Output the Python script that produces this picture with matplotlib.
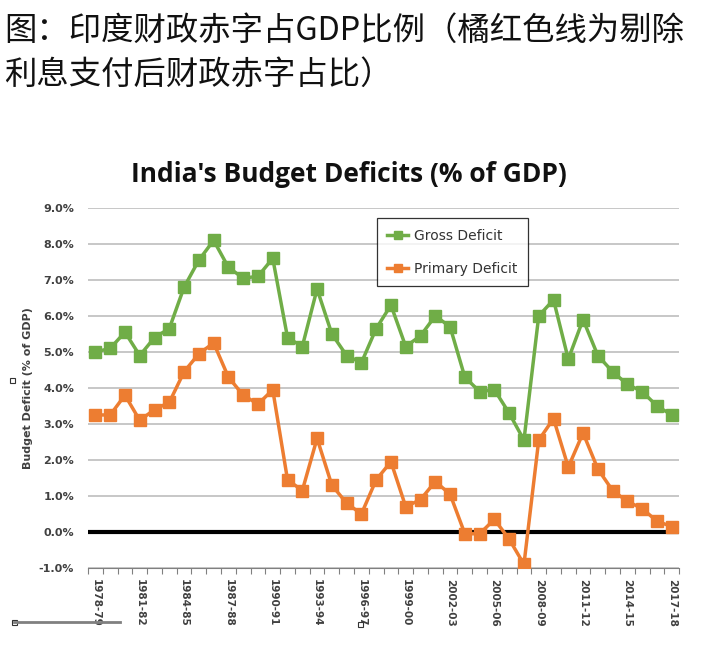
import numpy as np
import matplotlib.pyplot as plt
from matplotlib.patches import Rectangle
from matplotlib.lines import Line2D

# fiscal years 1978-79 .. 2017-18
start_years = list(range(1978, 2018))
year_labels = [f"{y}-{(y + 1) % 100:02d}" for y in start_years]

# deficits as % of GDP
gross_deficit = [5.0, 5.1, 5.55, 4.9, 5.4, 5.65, 6.8, 7.55, 8.1, 7.35,
                 7.05, 7.1, 7.6, 5.4, 5.15, 6.75, 5.5, 4.9, 4.7, 5.65,
                 6.3, 5.15, 5.45, 6.0, 5.7, 4.3, 3.9, 3.95, 3.3, 2.55,
                 6.0, 6.45, 4.8, 5.9, 4.9, 4.45, 4.1, 3.9, 3.5, 3.25]
primary_deficit = [3.25, 3.25, 3.8, 3.1, 3.4, 3.6, 4.45, 4.95, 5.25, 4.3,
                   3.8, 3.55, 3.95, 1.45, 1.15, 2.6, 1.3, 0.8, 0.5, 1.45,
                   1.95, 0.7, 0.9, 1.4, 1.05, -0.05, -0.05, 0.35, -0.2, -0.9,
                   2.55, 3.15, 1.8, 2.75, 1.75, 1.15, 0.85, 0.65, 0.3, 0.15]

green = "#70ad47"
orange = "#ed7d31"
txt = "#404040"

fig = plt.figure(figsize=(7.02, 6.48), dpi=100)

# chinese caption on top
cjk = ["Noto Sans CJK SC", "DejaVu Sans"]
fig.text(0.006, 0.952, "图：印度财政赤字占GDP比例（橘红色线为剔除",
         fontsize=23.3, family=cjk, va="center", ha="left", color="#111111")
fig.text(0.006, 0.884, "利息支付后财政赤字占比）",
         fontsize=23.3, family=cjk, va="center", ha="left", color="#111111")

ax = fig.add_axes([0.1254, 0.1235, 0.842, 0.5556])
ax.set_axisbelow(True)
x = np.arange(len(start_years))

ax.axhline(0, color="black", lw=3, zorder=1.5)
ax.plot(x, gross_deficit, color=green, lw=2.5, marker="s", ms=8.5,
        label="Gross Deficit", zorder=3)
ax.plot(x, primary_deficit, color=orange, lw=2.5, marker="s", ms=8.5,
        label="Primary Deficit", zorder=3)

ax.set_xlim(-0.5, len(start_years) - 0.5)
ax.set_ylim(-1, 9)
yt = np.arange(-1, 10, 1)
ax.set_yticks(yt, [f"{v:.1f}%" for v in yt])
ax.tick_params(axis="y", length=0, pad=10, labelsize=8, labelcolor=txt)
for lbl in ax.get_yticklabels():
    lbl.set_fontweight("bold")

ax.grid(axis="y", color="#bdbdbd", lw=1.2)

# tick marks between categories, labels on every third year
ax.set_xticks(np.arange(-0.5, len(start_years), 1), [""] * (len(start_years) + 1))
ax.set_xticks(x[::3], year_labels[::3], minor=True)
ax.tick_params(axis="x", which="major", length=4, color="#808080", direction="out")
ax.tick_params(axis="x", which="minor", length=0, pad=8, labelsize=7.5,
               labelcolor=txt, rotation=270)
for lbl in ax.get_xticklabels(minor=True):
    lbl.set_fontweight("bold")

for s in ["top", "right", "left"]:
    ax.spines[s].set_visible(False)
ax.spines["bottom"].set_color("#808080")

ax.set_ylabel("Budget Deficit (% of GDP)", fontsize=8, fontweight="bold",
              color=txt, labelpad=4)

leg = ax.legend(loc="upper left", bbox_to_anchor=(0.477, 0.99), frameon=True,
                fancybox=False, edgecolor="black", fontsize=10,
                labelspacing=1.35, handlelength=1.5, handletextpad=0.4,
                borderpad=0.75, markerscale=0.75)
leg.get_frame().set_linewidth(0.9)
for t in leg.get_texts():
    t.set_color("#333333")

fig.text(0.497, 0.73, "India's Budget Deficits (% of GDP)", fontsize=19,
         fontweight="bold", family=["Open Sans", "DejaVu Sans"],
         ha="center", va="center", color="#111111")

# leftover selection handles from the screenshot
for (hx, hy) in [(10, 383), (12, 625), (358, 627)]:
    fig.patches.append(Rectangle((hx / 702, 1 - hy / 648), 5 / 702, 5 / 648,
                                 transform=fig.transFigure, fill=False,
                                 edgecolor="#333333", lw=0.8))
fig.lines.append(Line2D([14 / 702, 120 / 702], [1 - 622 / 648, 1 - 622 / 648],
                        transform=fig.transFigure, color="#808080", lw=2))

fig.savefig("out.png", dpi=100)
